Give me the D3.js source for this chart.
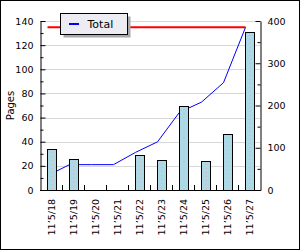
<!DOCTYPE html>
<html>
<head>
<meta charset="utf-8">
<script src="https://cdn.jsdelivr.net/npm/d3@7"></script>
<style>
  body { margin: 0; background: #fff; }
  svg { display: block; font-family: "DejaVu Sans", sans-serif; }
</style>
</head>
<body>
<div id="chart"></div>
<script>
const days = ["11\u20195/18", "11\u20195/19", "11\u20195/20", "11\u20195/21", "11\u20195/22",
              "11\u20195/23", "11\u20195/24", "11\u20195/25", "11\u20195/26", "11\u20195/27"];
const pages = [34, 26, 0, 0, 29, 25, 70, 24, 46, 131];
const totals = [34, 60, 60, 60, 89, 114, 184, 208, 254, 385];
const totalMark = 385;
const leftTicks = [0, 20, 40, 60, 80, 100, 120, 140];
const rightTicks = [0, 100, 200, 300, 400];

const width = 300, height = 250;
const plotLeft = 40, plotRight = 260, plotTop = 21, plotBottom = 190;

const svg = d3.select("#chart").append("svg")
  .attr("width", width).attr("height", height);

svg.append("rect")
  .attr("x", 0.5).attr("y", 0.5)
  .attr("width", width - 1).attr("height", height - 1)
  .attr("fill", "#fff").attr("stroke", "#000");

const x = d3.scaleBand().domain(days).range([plotLeft, plotRight]);
const yL = d3.scaleLinear().domain([0, 140]).range([plotBottom, plotTop]);
const yR = d3.scaleLinear().domain([0, 400]).range([plotBottom, plotTop]);

// grid
svg.append("g")
  .selectAll("line")
  .data(leftTicks.filter(d => d > 0))
  .join("line")
  .attr("x1", plotLeft).attr("x2", plotRight)
  .attr("y1", d => Math.round(yL(d)) + 0.5)
  .attr("y2", d => Math.round(yL(d)) + 0.5)
  .attr("stroke", "#d8d8d8");

// total reference line
const xp = d => x(d) + 7.5;
svg.append("line")
  .attr("x1", xp(days[0])).attr("x2", xp(days[days.length - 1]))
  .attr("y1", yR(totalMark)).attr("y2", yR(totalMark))
  .attr("stroke", "#ff0000").attr("stroke-width", 2);

// cumulative line
svg.append("path")
  .datum(totals)
  .attr("fill", "none")
  .attr("stroke", "#0000ff")
  .attr("stroke-width", 1)
  .attr("d", d3.line().x((d, i) => xp(days[i])).y(d => yR(d)));

// bars
const bars = svg.append("g")
  .selectAll("g")
  .data(pages.map((v, i) => ({ day: days[i], v })).filter(d => d.v > 0))
  .join("g");

bars.append("rect")
  .attr("x", d => Math.round(x(d.day) + 7) + 0.5)
  .attr("y", d => Math.round(yL(d.v)) + 0.5)
  .attr("width", 9)
  .attr("height", d => plotBottom - Math.round(yL(d.v)))
  .attr("fill", "#add8e6")
  .attr("stroke", "#000");

bars.append("line")
  .attr("x1", d => Math.round(x(d.day) + 7) + 5)
  .attr("x2", d => Math.round(x(d.day) + 7) + 5)
  .attr("y1", d => Math.round(yL(d.v)) + 3)
  .attr("y2", plotBottom)
  .attr("stroke", "#f0a8a8")
  .attr("stroke-dasharray", "1,3");

// left axis
const axL = svg.append("g").attr("transform", `translate(${plotLeft + 0.5},0)`)
  .call(d3.axisLeft(yL).tickValues(leftTicks).tickSizeInner(-5).tickSizeOuter(0).tickPadding(7));
svg.append("g").attr("transform", `translate(${plotLeft + 0.5},0)`)
  .call(d3.axisLeft(yL).tickValues(d3.range(10, 140, 20)).tickSize(-3).tickFormat(""))
  .call(g => g.select(".domain").remove());

// right axis
const axR = svg.append("g").attr("transform", `translate(${plotRight + 0.5},0)`)
  .call(d3.axisRight(yR).tickValues(rightTicks).tickSizeInner(-5).tickSizeOuter(0).tickPadding(7));
svg.append("g").attr("transform", `translate(${plotRight + 0.5},0)`)
  .call(d3.axisRight(yR).tickValues(d3.range(50, 400, 100)).tickSize(-3).tickFormat(""))
  .call(g => g.select(".domain").remove());

[axL, axR].forEach(g => g.selectAll("text")
  .attr("font-family", "DejaVu Sans").attr("font-size", 9.5).attr("fill", "#000"));

// bottom axis
svg.append("line")
  .attr("x1", plotLeft).attr("x2", plotRight + 1)
  .attr("y1", plotBottom + 0.5).attr("y2", plotBottom + 0.5)
  .attr("stroke", "#000");

svg.append("g")
  .selectAll("line")
  .data(days.slice(1))
  .join("line")
  .attr("x1", d => Math.round(x(d)) + 0.5)
  .attr("x2", d => Math.round(x(d)) + 0.5)
  .attr("y1", plotBottom).attr("y2", plotBottom - 5)
  .attr("stroke", "#000");

svg.append("g")
  .selectAll("text")
  .data(days)
  .join("text")
  .attr("transform", d => `translate(${x(d) + x.bandwidth() / 2 + 1},${plotBottom + 9}) rotate(-90)`)
  .attr("text-anchor", "end")
  .attr("dy", "0.35em")
  .attr("font-size", 9.5)
  .text(d => d);

// y title
svg.append("text")
  .attr("transform", `translate(10,${(plotTop + plotBottom) / 2}) rotate(-90)`)
  .attr("text-anchor", "middle")
  .attr("dy", "0.35em")
  .attr("font-size", 10)
  .text("Pages");

// legend
const lg = svg.append("g").attr("transform", "translate(60.5,13.5)");
lg.append("rect").attr("x", 3).attr("y", 3).attr("width", 67).attr("height", 21)
  .attr("fill", "#a8a8a8");
lg.append("rect").attr("width", 67).attr("height", 21)
  .attr("fill", "#ececf2").attr("stroke", "#000");
lg.append("line").attr("x1", 8.5).attr("x2", 18.5).attr("y1", 10.5).attr("y2", 10.5)
  .attr("stroke", "#0000ff").attr("stroke-width", 2);
lg.append("text").attr("x", 27).attr("y", 14.5)
  .attr("font-size", 11)
  .text("Total");
</script>
</body>
</html>
